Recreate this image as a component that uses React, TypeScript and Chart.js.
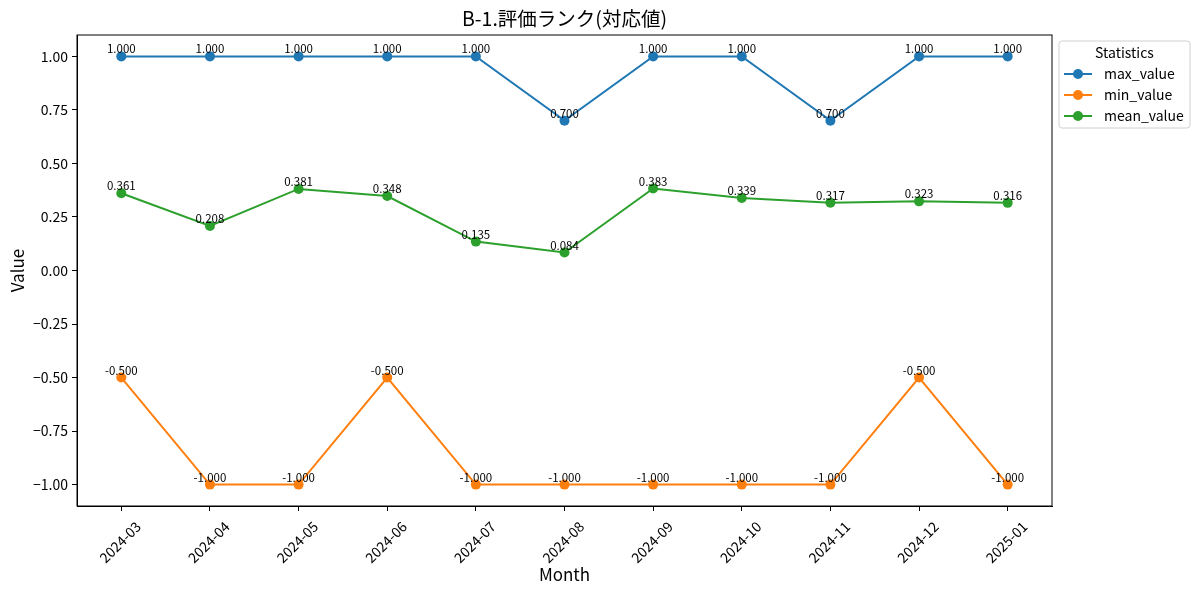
import React, { useRef, useEffect } from "react";
import { Chart, registerables } from "chart.js";

Chart.register(...registerables);

const months = [
  "2024-03", "2024-04", "2024-05", "2024-06", "2024-07", "2024-08",
  "2024-09", "2024-10", "2024-11", "2024-12", "2025-01",
];
const maxValues = [1, 1, 1, 1, 1, 0.7, 1, 1, 0.7, 1, 1];
const minValues = [-0.5, -1, -1, -0.5, -1, -1, -1, -1, -1, -0.5, -1];
const meanValues = [0.361, 0.208, 0.381, 0.348, 0.135, 0.084, 0.383, 0.339, 0.317, 0.323, 0.316];

const yTickValues = [-1, -0.75, -0.5, -0.25, 0, 0.25, 0.5, 0.75, 1];
const yTickLabels = ["−1.00", "−0.75", "−0.50", "−0.25", "0.00", "0.25", "0.50", "0.75", "1.00"];

const seriesNames = ["max_value", "min_value", "mean_value"];
const seriesColors = ["#1f77b4", "#ff7f0e", "#2ca02c"];

const FONT = "'Noto Sans CJK JP', 'Noto Sans', sans-serif";
const TITLE = "B-1.評価ランク(対応値)";

// value labels, plot frame, title and the outside legend
const decorPlugin = {
  id: "decor",
  afterDatasetsDraw(chart: any) {
    const { ctx, chartArea } = chart;
    ctx.save();
    ctx.font = `11.5px ${FONT}`;
    ctx.fillStyle = "#000";
    ctx.textAlign = "center";
    ctx.textBaseline = "alphabetic";
    chart.data.datasets.forEach((ds: any, i: number) => {
      const meta = chart.getDatasetMeta(i);
      meta.data.forEach((pt: any, j: number) => {
        ctx.fillText(ds.data[j].toFixed(3), pt.x, pt.y - 3);
      });
    });

    // frame
    ctx.strokeStyle = "#000";
    ctx.lineWidth = 1;
    ctx.strokeRect(chartArea.left, chartArea.top, chartArea.right - chartArea.left, chartArea.bottom - chartArea.top);

    // title
    ctx.font = `19.5px ${FONT}`;
    ctx.textBaseline = "middle";
    ctx.fillText(TITLE, (chartArea.left + chartArea.right) / 2, 19);

    // legend
    const lx = chartArea.right + 7;
    const ly = chartArea.top + 6;
    const lw = 131;
    const lh = 87;
    ctx.beginPath();
    ctx.roundRect(lx, ly, lw, lh, 3);
    ctx.fillStyle = "rgba(255,255,255,0.8)";
    ctx.fill();
    ctx.strokeStyle = "#d0d0d0";
    ctx.stroke();
    ctx.fillStyle = "#000";
    ctx.font = `14px ${FONT}`;
    ctx.textAlign = "center";
    ctx.fillText("Statistics", lx + lw / 2, ly + 12);
    seriesNames.forEach((name, i) => {
      const y = ly + 33 + i * 21;
      ctx.strokeStyle = seriesColors[i];
      ctx.lineWidth = 2;
      ctx.beginPath();
      ctx.moveTo(lx + 5, y);
      ctx.lineTo(lx + 33, y);
      ctx.stroke();
      ctx.fillStyle = seriesColors[i];
      ctx.beginPath();
      ctx.arc(lx + 19, y, 5, 0, Math.PI * 2);
      ctx.fill();
      ctx.fillStyle = "#000";
      ctx.textAlign = "left";
      ctx.fillText(name, lx + 45, y);
    });
    ctx.restore();
  },
};

const App = () => {
  const chartRef = useRef<HTMLCanvasElement>(null);
  const chartInstanceRef = useRef<Chart | null>(null);

  useEffect(() => {
    document.body.style.margin = "0";
    if (!chartRef.current) return;
    const context = chartRef.current.getContext("2d");
    if (!context) return;
    if (chartInstanceRef.current) chartInstanceRef.current.destroy();

    const series = [maxValues, minValues, meanValues];

    chartInstanceRef.current = new Chart(context, {
      type: "line",
      data: {
        labels: months,
        datasets: series.map((values, i) => ({
          label: seriesNames[i],
          data: values,
          borderColor: seriesColors[i],
          backgroundColor: seriesColors[i],
          borderWidth: 2,
          pointRadius: 5,
          pointBorderWidth: 0,
          pointBackgroundColor: seriesColors[i],
          tension: 0,
          fill: false,
        })),
      },
      options: {
        animation: false,
        responsive: true,
        maintainAspectRatio: false,
        layout: { padding: { top: 35, right: 148, left: 0, bottom: 0 } },
        plugins: {
          legend: { display: false },
          title: { display: false },
          tooltip: { enabled: false },
        },
        scales: {
          x: {
            offset: true,
            grid: { display: true, drawOnChartArea: false, drawTicks: true, tickLength: 5, color: "#000" },
            border: { display: true, color: "#000" },
            ticks: {
              color: "#000",
              font: { family: FONT, size: 14 },
              minRotation: 45,
              maxRotation: 45,
              padding: 7,
              labelOffset: 17, // centre the rotated label on its tick
            },
            title: {
              display: true,
              text: "Month",
              color: "#000",
              font: { family: FONT, size: 17 },
              padding: { top: 0, bottom: 10 },
            },
            afterFit: (scale: any) => {
              scale.height = 89;
            },
          },
          y: {
            min: -1.1,
            max: 1.1,
            grid: { display: true, drawOnChartArea: false, drawTicks: true, tickLength: 5, color: "#000" },
            border: { display: true, color: "#000" },
            afterBuildTicks: (scale: any) => {
              scale.ticks = yTickValues.map((v) => ({ value: v }));
            },
            ticks: {
              color: "#000",
              font: { family: FONT, size: 14 },
              padding: 4,
              callback: (value: any) => {
                const idx = yTickValues.findIndex((v) => Math.abs(v - Number(value)) < 1e-9);
                return idx >= 0 ? yTickLabels[idx] : "";
              },
            },
            title: {
              display: true,
              text: "Value",
              color: "#000",
              font: { family: FONT, size: 17 },
              padding: { top: 7, bottom: 0 },
            },
            afterFit: (scale: any) => {
              scale.width = 77;
            },
          },
        },
      },
      plugins: [decorPlugin],
    });

    return () => {
      if (chartInstanceRef.current) {
        chartInstanceRef.current.destroy();
        chartInstanceRef.current = null;
      }
    };
  }, []);

  return (
    <div style={{ width: 1200, height: 595, position: "relative", background: "#fff" }}>
      <canvas ref={chartRef}></canvas>
    </div>
  );
};

export default App;
